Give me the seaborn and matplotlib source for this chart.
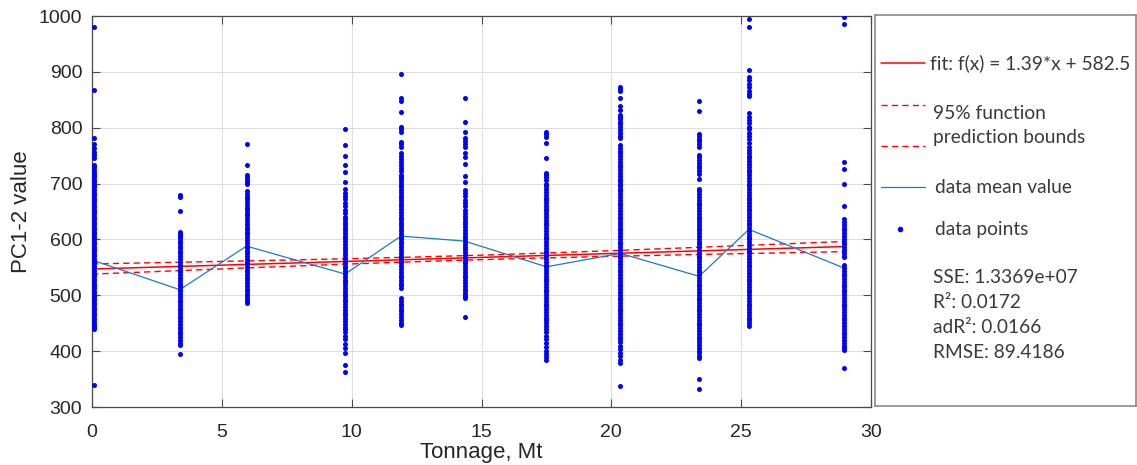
import numpy as np
import pandas as pd
import matplotlib
matplotlib.use("Agg")
import matplotlib.pyplot as plt
import seaborn as sns

# ---- data -----------------------------------------------------------------
tonnage = [0.08, 3.38, 5.95, 9.75, 11.9, 14.35, 17.5, 20.35, 23.38, 25.3, 28.95]

pts_00 = [980, 868, 782, 770, 764, 757, 751, 745, 734, 729, 724, 719, 715, 711, 706, 702,
          697, 693, 689, 684, 680, 675, 671, 667, 662, 658, 653, 649, 645, 640, 636, 631,
          627, 623, 618, 614, 609, 605, 601, 596, 592, 587, 583, 579, 574, 570, 565, 561,
          557, 552, 548, 543, 539, 535, 530, 526, 521, 517, 513, 508, 504, 499, 495, 491,
          486, 482, 477, 473, 469, 464, 460, 455, 451, 447, 443, 440, 339]
pts_03 = [680, 676, 650, 614, 610, 606, 602, 598, 594, 589, 584, 579, 575, 570, 565, 560,
          555, 550, 546, 541, 536, 531, 526, 521, 517, 512, 507, 502, 497, 492, 488, 483,
          478, 473, 468, 463, 459, 454, 449, 444, 439, 434, 430, 425, 420, 415, 411, 394]
pts_06 = [770, 733, 715, 711, 707, 703, 699, 686, 681, 676, 672, 667, 662, 657, 652, 647,
          643, 638, 633, 628, 623, 618, 614, 609, 604, 599, 594, 589, 585, 580, 575, 570,
          565, 560, 556, 551, 546, 541, 536, 531, 527, 522, 517, 512, 507, 502, 498, 494,
          490, 486]
pts_10 = [798, 769, 749, 733, 720, 703, 691, 683, 678, 672, 666, 660, 653, 647, 641, 636,
          631, 626, 621, 616, 611, 607, 602, 597, 592, 587, 582, 577, 572, 567, 562, 557,
          552, 548, 543, 538, 533, 528, 523, 518, 513, 508, 503, 498, 493, 489, 484, 479,
          474, 469, 464, 459, 454, 449, 444, 440, 435, 428, 421, 413, 405, 397, 375, 362]
pts_12 = [896, 853, 847, 829, 802, 797, 793, 775, 771, 766, 754, 749, 744, 738, 733, 727,
          722, 716, 712, 708, 703, 698, 693, 688, 683, 678, 674, 669, 664, 659, 654, 649,
          644, 639, 635, 630, 625, 620, 615, 610, 605, 600, 596, 591, 586, 581, 576, 571,
          566, 561, 557, 552, 547, 542, 537, 532, 527, 522, 518, 513, 495, 490, 485, 480,
          476, 471, 466, 461, 456, 451, 447]
pts_14 = [853, 810, 793, 782, 777, 771, 766, 755, 748, 735, 714, 703, 688, 683, 677, 671,
          665, 659, 653, 647, 642, 637, 632, 627, 622, 617, 612, 607, 602, 597, 592, 587,
          582, 577, 572, 567, 562, 557, 552, 547, 542, 537, 532, 527, 522, 517, 512, 507,
          502, 498, 495, 461]
pts_17 = [793, 789, 784, 772, 745, 719, 716, 712, 706, 700, 695, 690, 685, 680, 675, 670,
          665, 660, 655, 650, 645, 640, 635, 630, 625, 620, 615, 610, 605, 600, 595, 590,
          585, 580, 575, 570, 565, 560, 555, 550, 545, 540, 535, 530, 525, 520, 515, 510,
          505, 500, 495, 490, 485, 480, 475, 470, 465, 460, 455, 450, 445, 440, 434, 428,
          421, 414, 407, 400, 394, 389, 384]
pts_20 = [873, 869, 865, 853, 838, 832, 823, 819, 815, 810, 806, 801, 796, 791, 786, 781,
          769, 764, 759, 754, 749, 744, 739, 734, 729, 724, 719, 714, 709, 704, 699, 695,
          690, 686, 681, 676, 671, 666, 661, 656, 651, 646, 641, 636, 631, 626, 621, 616,
          611, 606, 601, 596, 591, 586, 581, 576, 571, 566, 561, 556, 551, 546, 541, 536,
          531, 526, 521, 516, 511, 506, 501, 496, 491, 486, 481, 476, 471, 466, 461, 456,
          451, 446, 441, 436, 431, 426, 421, 416, 410, 403, 397, 391, 385, 379, 338]
pts_23 = [848, 830, 789, 785, 780, 776, 771, 766, 751, 747, 742, 737, 732, 727, 722, 718,
          709, 691, 686, 681, 676, 671, 666, 661, 656, 651, 646, 641, 636, 631, 626, 621,
          616, 611, 606, 601, 596, 591, 586, 581, 576, 571, 566, 561, 556, 551, 546, 541,
          536, 531, 526, 521, 516, 511, 506, 501, 496, 491, 486, 481, 476, 471, 466, 461,
          456, 451, 446, 441, 436, 431, 426, 421, 416, 411, 406, 401, 396, 391, 387, 351,
          333]
pts_25 = [994, 981, 903, 891, 885, 879, 873, 866, 860, 856, 826, 820, 814, 808, 802, 797,
          791, 785, 779, 773, 766, 760, 755, 750, 745, 740, 735, 730, 725, 720, 715, 710,
          705, 700, 695, 690, 685, 680, 675, 670, 665, 660, 655, 650, 645, 640, 635, 630,
          625, 620, 615, 610, 605, 600, 595, 590, 585, 580, 575, 570, 565, 560, 555, 550,
          545, 540, 535, 530, 525, 520, 515, 510, 505, 500, 495, 490, 485, 480, 475, 470,
          465, 460, 455, 450, 445]
pts_29 = [999, 986, 739, 726, 699, 660, 636, 631, 626, 621, 616, 611, 606, 601, 596, 591,
          586, 581, 576, 571, 568, 554, 549, 544, 539, 534, 529, 524, 519, 515, 510, 505,
          500, 495, 490, 485, 480, 475, 470, 465, 460, 455, 450, 445, 440, 435, 430, 425,
          420, 415, 410, 405, 402, 370]

point_groups = [pts_00, pts_03, pts_06, pts_10, pts_12, pts_14,
                pts_17, pts_20, pts_23, pts_25, pts_29]

mean_value = [562, 510, 588, 538, 606, 597, 551, 575, 534, 618, 549]

# linear fit and its 95% bounds
fit_slope = 1.39
fit_intercept = 547.0
bound_center = 14.5      # x where the confidence band is narrowest
bound_min = 4.0          # half-width at that point
bound_growth = 0.32      # quadratic growth of the squared half-width

stats_lines = ["SSE: 1.3369e+07", "R²: 0.0172", "adR²: 0.0166", "RMSE: 89.4186"]

# ---- tables ---------------------------------------------------------------
points = pd.DataFrame({
    "tonnage": np.repeat(tonnage, [len(g) for g in point_groups]),
    "value": np.concatenate([np.asarray(g, float) for g in point_groups]),
})
means = pd.DataFrame({"tonnage": tonnage, "value": mean_value})

xfit = np.linspace(0, max(tonnage), 200)
yfit = fit_slope * xfit + fit_intercept
half = np.sqrt(bound_min ** 2 + bound_growth * (xfit - bound_center) ** 2)
fit = pd.DataFrame({"tonnage": xfit, "fit": yfit,
                    "upper": yfit + half, "lower": yfit - half})

# ---- style ----------------------------------------------------------------
sns.set_theme(style="whitegrid")
plt.rcParams["font.family"] = ["Liberation Sans", "DejaVu Sans"]
text_c = "#262626"
frame_c = "#4a4a4a"
red = "#ff0000"
dash = (0, (4.5, 3))

fig = plt.figure(figsize=(11.37, 4.65), dpi=100)
W, H = 1137, 465
ax = fig.add_axes([92 / W, (H - 407) / H, 779 / W, 391 / H])

sns.lineplot(data=fit, x="tonnage", y="fit", ax=ax, color=red, lw=1.1, zorder=2)
sns.lineplot(data=fit, x="tonnage", y="upper", ax=ax, color=red, lw=1.0,
             linestyle=dash, zorder=2)
sns.lineplot(data=fit, x="tonnage", y="lower", ax=ax, color=red, lw=1.0,
             linestyle=dash, zorder=2)
sns.lineplot(data=means, x="tonnage", y="value", ax=ax, color="#1a7cc6", lw=0.9,
             zorder=3)
sns.scatterplot(data=points, x="tonnage", y="value", ax=ax, color="#0000ff",
                s=13, linewidth=0, zorder=4)

ax.set_xlim(0, 30)
ax.set_ylim(300, 1000)
ax.set_xticks(range(0, 31, 5))
ax.set_yticks(range(300, 1001, 100))
ax.grid(True, color="#dedede", lw=0.8)
for s in ax.spines.values():
    s.set_color(frame_c)
    s.set_linewidth(0.9)
ax.tick_params(direction="in", length=5.5, width=0.8, color=frame_c,
               top=True, right=True, bottom=True, left=True,
               labelsize=14, labelcolor=text_c)
ax.tick_params(axis="x", pad=12.5)
ax.tick_params(axis="y", pad=7)
ax.set_xlabel("Tonnage, Mt", fontsize=16, color=text_c, labelpad=0.5)
ax.set_ylabel("PC1-2 value", fontsize=16, color=text_c, labelpad=5)

# ---- legend panel ---------------------------------------------------------
lax = fig.add_axes([875 / W, (H - 406) / H, 261 / W, 391 / H])
lax.set_xlim(0, 261)
lax.set_ylim(391, 0)
lax.set_xticks([])
lax.set_yticks([])
lax.grid(False)
lax.set_facecolor("white")
for s in lax.spines.values():
    s.set_color("#8a8a8a")
    s.set_linewidth(1.2)

lfont = dict(family=["Lato", "DejaVu Sans"], fontsize=13.8, color="#3a3a3a",
             va="center", ha="left")
lax.plot([6, 50], [48, 48], color=red, lw=1.1)
lax.text(55, 48, "fit: f(x) = 1.39*x + 582.5", **lfont)
lax.plot([6, 50], [90, 90], color=red, lw=1.0, linestyle=dash)
lax.plot([6, 50], [131, 131], color=red, lw=1.0, linestyle=dash)
lax.text(58, 98, "95% function", **lfont)
lax.text(58, 122, "prediction bounds", **lfont)
lax.plot([6, 50], [172, 172], color="#1a7cc6", lw=0.9)
lax.text(60, 172, "data mean value", **lfont)
lax.plot([25], [214], "o", color="#0000ff", ms=4, mec="none")
lax.text(60, 214, "data points", **lfont)
for i, line in enumerate(stats_lines):
    lax.text(58, 262 + 25 * i, line, **lfont)

fig.savefig("out.png", dpi=100, facecolor="white")
